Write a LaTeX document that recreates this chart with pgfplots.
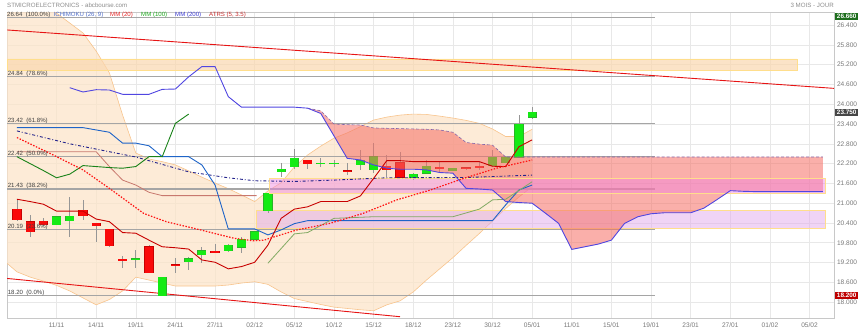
\documentclass[border=0pt]{standalone}
\usepackage{fontspec}
\setmainfont{Liberation Sans}
\usepackage{pgfplots}
\pgfplotsset{compat=1.18}
\usepackage{pgfplotstable}

\definecolor{envfill}{RGB}{252,228,201}
\definecolor{envedge}{RGB}{248,196,140}
\definecolor{topband}{RGB}{250,215,175}
\definecolor{bandedge}{RGB}{255,222,140}
\definecolor{pinkA}{RGB}{240,130,225}
\definecolor{pinkB}{RGB}{225,170,235}
\definecolor{cloudc}{RGB}{245,110,100}
\definecolor{s2col}{RGB}{130,100,170}
\definecolor{s1col}{RGB}{80,70,225}
\definecolor{lineI}{RGB}{30,100,200}
\definecolor{navy}{RGB}{35,35,140}
\definecolor{chik}{RGB}{25,130,25}
\definecolor{olivec}{RGB}{130,170,100}
\definecolor{rosy}{RGB}{200,120,110}
\definecolor{tenk}{RGB}{200,0,0}
\definecolor{dotred}{RGB}{255,20,20}
\definecolor{trend}{RGB}{230,20,20}
\definecolor{fibc}{RGB}{165,165,165}
\definecolor{candG}{RGB}{20,235,20}
\definecolor{candGb}{RGB}{40,180,40}
\definecolor{candR}{RGB}{250,10,10}
\definecolor{candRb}{RGB}{200,0,0}
\definecolor{wickc}{RGB}{150,150,150}
\definecolor{txtgray}{RGB}{120,120,120}
\definecolor{gridc}{RGB}{232,232,232}
\definecolor{framec}{RGB}{200,200,200}
\definecolor{legblue}{RGB}{80,110,200}
\definecolor{legred}{RGB}{230,40,40}
\definecolor{leggreen}{RGB}{30,170,30}
\definecolor{legblue2}{RGB}{60,60,210}
\definecolor{legatr}{RGB}{200,50,50}
\definecolor{boxgreen}{RGB}{30,110,30}
\definecolor{boxgray}{RGB}{70,70,70}
\definecolor{boxred}{RGB}{190,0,0}

\pgfplotstableread{
n o h l c
3 20.35 20.60 20.34 20.59
4 20.47 21.20 19.97 20.61
9 19.28 19.58 19.03 19.32
11 18.20 18.76 18.20 18.75
13 19.23 19.38 18.98 19.32
14 19.43 19.66 19.18 19.56
16 19.55 19.75 19.53 19.73
17 19.66 19.99 19.48 19.91
18 19.91 20.15 19.90 20.14
19 20.77 21.32 20.69 21.30
20 21.95 22.21 21.80 22.03
21 22.11 22.63 22.03 22.36
23 22.19 22.36 22.11 22.22
24 22.19 22.31 22.11 22.22
26 22.16 22.61 22.01 22.29
27 22.01 22.82 21.91 22.41
30 21.78 21.90 21.70 21.88
31 21.91 22.31 21.89 22.13
33 21.98 22.07 21.97 22.06
36 22.13 22.61 22.11 22.39
37 22.23 22.40 22.21 22.39
38 22.39 23.67 22.38 23.40
39 23.60 23.92 23.55 23.75
}\greencandles

\pgfplotstableread{
n o h l c
0 20.82 21.10 20.47 20.49
1 20.44 20.64 19.97 20.14
2 20.46 20.54 20.31 20.35
5 20.79 21.10 20.49 20.61
6 20.39 20.40 19.83 20.31
7 20.21 20.22 19.68 19.70
8 19.30 19.40 19.03 19.26
10 19.68 19.74 18.89 18.89
12 19.14 19.33 18.89 19.11
15 19.55 19.76 19.48 19.51
22 22.31 22.31 22.03 22.19
25 21.99 22.23 21.85 21.95
28 22.13 22.46 21.78 22.01
29 22.23 22.56 21.75 21.78
32 22.09 22.26 21.95 22.06
34 22.07 22.10 22.00 22.04
35 22.12 22.26 22.01 22.09
}\redcandles

\pgfplotsset{candle/.style={only marks, mark=*, mark options={draw opacity=0, fill opacity=0}, forget plot,
  error bars/.cd, y dir=both, y explicit, error mark=none}}

\begin{document}
\begin{tikzpicture}
\useasboundingbox (0,0) rectangle (859bp,331bp);
\begin{axis}[
  at={(7bp,13bp)}, anchor=south west,
  scale only axis, width=827bp, height=306bp,
  xmin=-0.75, xmax=61.85, ymin=17.521, ymax=26.794,
  axis line style={draw=framec, line width=0.6bp},
  xtick={3,6,...,60},
  xticklabels={11/11,14/11,19/11,24/11,27/11,02/12,05/12,10/12,15/12,18/12,23/12,30/12,05/01,11/01,15/01,19/01,23/01,27/01,01/02,05/02},
  ytick={18,18.6,19.2,19.8,20.4,21,21.6,22.2,22.8,23.4,24,24.6,25.2,25.8,26.4},
  yticklabel pos=right,
  major tick length=0pt,
  grid=major, grid style={draw=gridc, line width=0.6bp},
  tick label style={font=\fontsize{6.6}{7}\selectfont, text=txtgray},
  xticklabel style={yshift=-1.5bp},
  /pgf/number format/assume math mode=true,
  yticklabel style={xshift=-0.5bp, /pgf/number format/.cd, fixed, fixed zerofill, precision=3},
]
% envelope (upper edge forward, lower edge backward)
\addplot[fill=envfill, fill opacity=0.75, draw=none, forget plot] table {
n v
-0.75 28.5
0 28.2
1 27.6
2 27.0
3 26.76
4 26.46
5 26.16
6 25.61
7 24.95
8 23.67
9 22.52
10 22.34
11 22.26
12 22.16
13 21.98
14 21.79
15 21.61
16 21.44
17 21.25
18 21.05
19 21.37
20 21.62
21 22.10
22 22.46
23 22.73
24 22.97
25 23.13
26 23.32
27 23.52
28 23.61
29 23.67
30 23.70
31 23.69
32 23.64
33 23.58
34 23.51
35 23.42
36 23.25
37 23.02
38 23.02
39 23.24
39 21.50
38 21.19
37 20.84
36 20.46
35 20.08
34 19.72
33 19.35
32 19.01
31 18.67
30 18.31
29 18.04
28 17.92
27 17.74
26 17.77
25 17.81
24 17.85
23 17.93
22 18.02
21 18.11
20 18.31
19 18.54
18 18.62
17 18.58
16 18.52
15 18.49
14 18.49
13 18.49
12 18.49
11 18.58
10 18.67
9 18.76
8 18.34
7 18.08
6 17.92
5 18.13
4 18.34
3 18.51
2 18.64
1 18.76
0 18.92
-0.75 19.18
};
\addplot[draw=envedge, line width=0.6bp] table {
n v
-0.75 28.5
0 28.2
1 27.6
2 27.0
3 26.76
4 26.46
5 26.16
6 25.61
7 24.95
8 23.67
9 22.52
10 22.34
11 22.26
12 22.16
13 21.98
14 21.79
15 21.61
16 21.44
17 21.25
18 21.05
19 21.37
20 21.62
21 22.10
22 22.46
23 22.73
24 22.97
25 23.13
26 23.32
27 23.52
28 23.61
29 23.67
30 23.70
31 23.69
32 23.64
33 23.58
34 23.51
35 23.42
36 23.25
37 23.02
38 23.02
39 23.24
};
\addplot[draw=envedge, line width=0.6bp] table {
n v
-0.75 19.18
0 18.92
1 18.76
2 18.64
3 18.51
4 18.34
5 18.13
6 17.92
7 18.08
8 18.34
9 18.76
10 18.67
11 18.58
12 18.49
13 18.49
14 18.49
15 18.49
16 18.52
17 18.58
18 18.62
19 18.54
20 18.31
21 18.11
22 18.02
23 17.93
24 17.85
25 17.81
26 17.77
27 17.74
28 17.92
29 18.04
30 18.31
31 18.67
32 19.01
33 19.35
34 19.72
35 20.08
36 20.46
37 20.84
38 21.19
39 21.50
};

% horizontal bands
\addplot[fill=topband, fill opacity=0.7, draw=bandedge, line width=0.6bp] coordinates {(-0.75,25.015) (59.05,25.015) (59.05,25.37) (-0.75,25.37) (-0.75,25.015)};
\addplot[fill=pinkB, fill opacity=0.5, draw=bandedge, line width=0.6bp] coordinates {(18.1,20.24) (61.2,20.24) (61.2,20.77) (18.1,20.77) (18.1,20.24)};

% fibonacci lines
\addplot[fibc, line width=1.1bp] coordinates {(-0.75,26.64) (48.3,26.64)};
\addplot[fibc, line width=1.1bp] coordinates {(-0.75,24.84) (48.3,24.84)};
\addplot[fibc, line width=1.1bp] coordinates {(-0.75,23.42) (48.3,23.42)};
\addplot[fibc, line width=1.1bp] coordinates {(-0.75,22.42) (48.3,22.42)};
\addplot[fibc, line width=1.1bp] coordinates {(-0.75,21.43) (48.3,21.43)};
\addplot[fibc, line width=1.1bp] coordinates {(-0.75,20.19) (48.3,20.19)};
\addplot[fibc, line width=1.4bp] coordinates {(-0.75,18.20) (48.3,18.20)};

% trend lines
\addplot[trend, line width=0.9bp] coordinates {(-0.75,26.25) (61.85,24.48)};
\addplot[trend, line width=0.9bp] coordinates {(-0.75,18.72) (29.0,17.56)};

% candles: wicks
\addplot[candle, error bar style={line width=0.8bp, draw=wickc}]
  table[x=n, y expr={(\thisrow{h}+\thisrow{l})/2}, y error expr={(\thisrow{h}-\thisrow{l})/2}] \greencandles;
\addplot[candle, error bar style={line width=0.8bp, draw=wickc}]
  table[x=n, y expr={(\thisrow{h}+\thisrow{l})/2}, y error expr={(\thisrow{h}-\thisrow{l})/2}] \redcandles;
% bodies
\addplot[candle, error bar style={line width=9.2bp, draw=candGb}]
  table[x=n, y expr={(\thisrow{o}+\thisrow{c})/2}, y error expr={abs(\thisrow{o}-\thisrow{c})/2+0.012}] \greencandles;
\addplot[candle, error bar style={line width=8.2bp, draw=candG}]
  table[x=n, y expr={(\thisrow{o}+\thisrow{c})/2}, y error expr={abs(\thisrow{o}-\thisrow{c})/2}] \greencandles;
\addplot[candle, error bar style={line width=9.2bp, draw=candRb}]
  table[x=n, y expr={(\thisrow{o}+\thisrow{c})/2}, y error expr={abs(\thisrow{o}-\thisrow{c})/2+0.012}] \redcandles;
\addplot[candle, error bar style={line width=8.2bp, draw=candR}]
  table[x=n, y expr={(\thisrow{o}+\thisrow{c})/2}, y error expr={abs(\thisrow{o}-\thisrow{c})/2}] \redcandles;

% ichimoku cloud: upper span forward, lower span backward
\addplot[fill=cloudc, fill opacity=0.55, draw=none, forget plot] table {
n v
22 23.88
23 23.80
24 23.40
25 23.38
26 23.37
27 23.28
28 23.27
29 23.26
30 23.25
31 23.24
32 23.22
33 23.15
34 22.84
35 22.79
36 22.76
37 22.40
61 22.40
61 21.35
55 21.36
54 21.38
53 21.11
52 20.85
51 20.71
49 20.71
48 20.68
47 20.59
46 20.39
45 19.88
44 19.76
43 19.68
42 19.60
41 20.39
40 20.70
39 21.00
38 21.02
37 21.05
36 21.40
35 21.43
34 21.45
33 21.91
32 21.93
31 22.01
30 22.03
29 22.03
28 22.06
27 22.16
26 22.31
25 22.36
24 23.04
23 23.72
22 23.88
};
\addplot[fill=pinkA, fill opacity=0.45, draw=bandedge, line width=0.6bp] coordinates {(19.1,21.31) (61.2,21.31) (61.2,21.75) (19.1,21.75) (19.1,21.31)};
\addplot[draw=s2col, densely dashed, line width=0.6bp] table {
n v
22 23.88
23 23.80
24 23.40
25 23.38
26 23.37
27 23.28
28 23.27
29 23.26
30 23.25
31 23.24
32 23.22
33 23.15
34 22.84
35 22.79
36 22.76
37 22.40
61 22.40
};

% lines
\addplot[navy, line width=0.9bp, dash dot] coordinates {(0,23.19) (4,22.80) (9,22.40) (13,21.95) (16,21.77) (18,21.68) (21,21.66) (24,21.70) (28,21.77) (34,21.78) (39,21.85)};
\addplot[rosy, line width=0.8bp] coordinates {(0,22.56) (6,22.56) (7,22.11) (8,21.70) (9,21.55) (10,21.33) (11,21.23) (18.15,21.23)};
\addplot[lineI, line width=0.9bp] coordinates {(0,23.29) (5,23.29) (6,23.22) (7,23.15) (8,22.82) (9,22.82) (10,22.74) (11,22.41) (12,22.41) (13,22.41) (14,22.16) (15,21.55) (16,20.22) (17,20.22) (18,20.22) (19,20.04) (20,20.19) (21,20.38) (22,20.47) (36,20.47) (37,20.95) (38,21.40) (39,21.55)};
\addplot[olivec, line width=0.8bp] coordinates {(19,19.18) (21,20.07) (22,20.11) (24,20.54) (27,20.59) (33,20.59) (35,20.82) (36,21.10) (37,21.12) (39,21.65)};
\addplot[chik, line width=0.9bp] coordinates {(0,22.41) (1,22.20) (2,21.99) (3,21.77) (4,21.88) (5,22.14) (6,22.11) (7,22.08) (8,22.06) (9,22.11) (10,22.41) (11,22.41) (12,23.42) (13,23.70)};
\addplot[tenk, line width=0.9bp] coordinates {(0,21.12) (1,21.05) (2,20.97) (3,20.76) (4,20.76) (5,20.76) (6,20.52) (7,20.44) (8,20.11) (9,20.09) (10,19.88) (11,19.68) (12,19.65) (13,19.61) (14,19.28) (15,19.21) (16,19.01) (17,19.08) (18,19.21) (19,19.73) (20,20.54) (21,20.82) (22,20.89) (23,21.05) (24,21.05) (25,21.05) (26,21.22) (27,21.75) (28,22.29) (29,22.29) (30,22.26) (35,22.26) (36,22.12) (37,22.11) (38,22.71) (39,22.92)};
\addplot[dotred, line width=1.2bp, dash pattern=on 1.5bp off 1.5bp] coordinates {(0,22.99) (2.5,22.51) (5,22.01) (7,21.45) (9.6,20.69) (11.3,20.44) (13.9,20.19) (16.4,19.94) (17.9,19.86) (18.7,19.88) (19.4,19.97) (21.2,20.19) (23.7,20.39) (26.2,20.69) (28.75,21.10) (31.3,21.40) (33.8,21.75) (36.3,22.06) (39,22.31)};
\addplot[s1col, line width=0.9bp] table {
n v
4 24.50
5 24.37
6 24.44
7 24.43
8 24.30
9 24.30
10 24.30
11 24.45
12 24.46
13 24.83
14 25.14
15 25.14
16 24.23
17 23.91
18 23.91
19 23.91
20 23.91
21 23.91
22 23.88
23 23.72
24 23.04
25 22.36
26 22.31
27 22.16
28 22.06
29 22.03
30 22.03
31 22.01
32 21.93
33 21.91
34 21.45
35 21.43
36 21.40
37 21.05
38 21.02
39 21.00
40 20.70
41 20.39
42 19.60
43 19.68
44 19.76
45 19.88
46 20.39
47 20.59
48 20.68
49 20.71
50 20.71
51 20.71
52 20.85
53 21.11
54 21.38
55 21.36
56 21.35
57 21.35
58 21.35
59 21.35
60 21.35
61 21.35
};

% fib labels
\node[anchor=base west, inner sep=0pt, font=\fontsize{6.1}{7}\selectfont, text=black!75] at (axis cs:-0.7,24.84) [yshift=1.2bp] {24.84\ \ (78.6\%)};
\node[anchor=base west, inner sep=0pt, font=\fontsize{6.1}{7}\selectfont, text=black!75] at (axis cs:-0.7,23.42) [yshift=1.2bp] {23.42\ \ (61.8\%)};
\node[anchor=base west, inner sep=0pt, font=\fontsize{6.1}{7}\selectfont, text=black!75] at (axis cs:-0.7,22.42) [yshift=1.2bp] {22.42\ \ (50.0\%)};
\node[anchor=base west, inner sep=0pt, font=\fontsize{6.1}{7}\selectfont, text=black!75] at (axis cs:-0.7,21.43) [yshift=1.2bp] {21.43\ \ (38.2\%)};
\node[anchor=base west, inner sep=0pt, font=\fontsize{6.1}{7}\selectfont, text=black!75] at (axis cs:-0.7,20.19) [yshift=1.2bp] {20.19\ \ (23.6\%)};
\node[anchor=base west, inner sep=0pt, font=\fontsize{6.1}{7}\selectfont, text=black!75] at (axis cs:-0.7,18.20) [yshift=1.2bp] {18.20\ \ (0.0\%)};
\end{axis}

% price boxes on the right axis
\node[anchor=west, inner xsep=1bp, inner ysep=1.6bp, minimum width=23bp, fill=boxgreen, text=white, font=\fontsize{6.4}{7}\selectfont\bfseries] at (835bp,314.6bp) {26.660};
\node[anchor=west, inner xsep=1bp, inner ysep=1.6bp, minimum width=23bp, fill=boxgray, text=white, font=\fontsize{6.4}{7}\selectfont\bfseries] at (835bp,218.5bp) {23.750};
\node[anchor=west, inner xsep=1bp, inner ysep=1.6bp, minimum width=23bp, fill=boxred, text=white, font=\fontsize{6.4}{7}\selectfont\bfseries] at (835bp,35.4bp) {18.200};

% titles and legend row
\node[anchor=west, inner sep=0pt, font=\fontsize{6.2}{7}\selectfont, text=black!45] at (7bp,326bp) {STMICROELECTRONICS - abcbourse.com};
\node[anchor=east, inner sep=0pt, font=\fontsize{6.2}{7}\selectfont, text=black!45] at (834bp,326bp) {3 MOIS - JOUR};
\node[anchor=west, inner sep=0pt, font=\fontsize{6.1}{7}\selectfont, text=black!75] at (7bp,316bp) {26.64\ \ (100.0\%)};
\node[anchor=west, inner sep=0pt, font=\fontsize{6.1}{7}\selectfont, text=legblue] at (53.5bp,316bp) {ICHIMOKU (26, 9)};
\node[anchor=west, inner sep=0pt, font=\fontsize{6.1}{7}\selectfont, text=legred] at (110bp,316bp) {MM (20)};
\node[anchor=west, inner sep=0pt, font=\fontsize{6.1}{7}\selectfont, text=leggreen] at (141bp,316bp) {MM (100)};
\node[anchor=west, inner sep=0pt, font=\fontsize{6.1}{7}\selectfont, text=legblue2] at (175bp,316bp) {MM (200)};
\node[anchor=west, inner sep=0pt, font=\fontsize{6.1}{7}\selectfont, text=legatr] at (209bp,316bp) {ATRS (5, 3.5)};
\end{tikzpicture}
\end{document}
